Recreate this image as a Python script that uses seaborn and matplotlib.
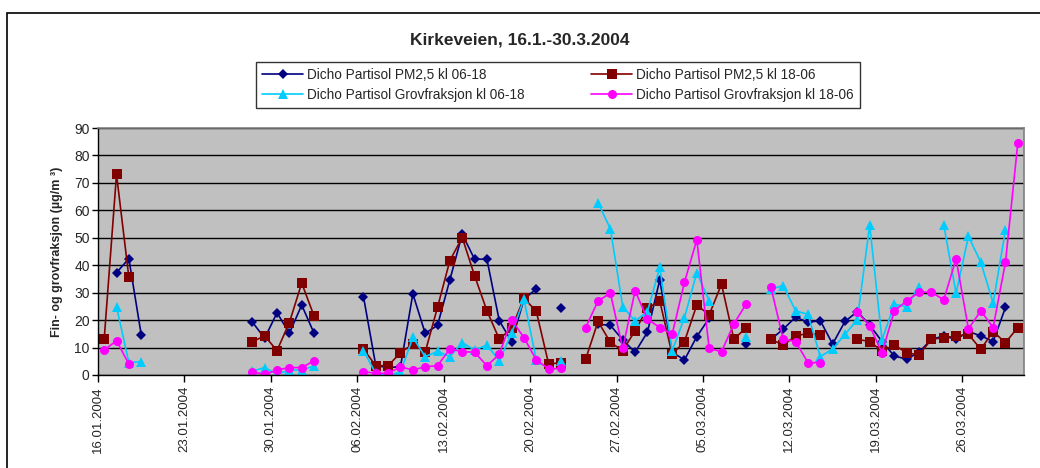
import numpy as np
import pandas as pd
import seaborn as sns
import matplotlib.pyplot as plt
from matplotlib.patches import Rectangle

nan = np.nan

# daglige verdier 16.01.2004 - 30.03.2004 (75 dager), nan = ingen måling
start = '2004-01-16'
pm25_dag = [nan, 37.3, 42.4, 14.7, nan, nan, nan, nan, nan, nan, nan, nan,
            19.3, 13.4, 22.7, 15.2, 25.5, 15.2, nan, nan, nan,
            28.6, 3.4, 2.7, 3.0, 29.6, 15.2, 18.1, 34.7, 51.3, 42.2, 42.2, 19.8, 12.2, 27.6, 31.4,
            nan, 24.3, nan, nan,
            18.5, 18.1, 12.8, 8.3, 15.6, 34.7, 8.3, 5.5, 14.0, 20.7, nan, nan, 11.2, nan,
            13.0, 16.7, 21.1, 19.2, 19.8, 11.3, 19.5, 23.1, 18.2, 12.2, 6.9, 5.8, 8.3, 13.0,
            14.2, 13.0, 15.8, 14.3, 12.2, 24.6, nan]
pm25_natt = [13.0, 73.1, 35.6, nan, nan, nan, nan, nan, nan, nan, nan, nan,
             12.2, 14.2, 8.9, 19.1, 33.5, 21.5, nan, nan, nan,
             9.4, 3.4, 3.4, 8.1, 11.3, 8.3, 24.7, 41.7, 50.1, 36.2, 23.4, 13.1, 17.0, 28.0, 23.2,
             4.0, 4.5, nan,
             5.8, 19.5, 11.9, 8.9, 16.1, 24.3, 27.0, 7.5, 12.2, 25.5, 21.9, 33.1, 13.0, 17.3, nan,
             13.0, 10.9, 14.2, 15.2, 14.6, nan, nan,
             13.0, 12.2, 8.8, 10.9, 8.1, 7.3, 13.0, 13.6, 14.2, 14.8, 9.4, 15.8, 11.8, 17.3]
grov_dag = [nan, 24.9, 4.5, 4.9, nan, nan, nan, nan, nan, nan, nan, nan,
            1.4, 2.7, 0.3, 1.8, 1.8, 3.3, nan, nan, nan,
            8.8, 0.6, 0.0, 1.0, 13.7, 6.7, 8.6, 6.7, 11.8, 9.1, 10.9, 5.2, 15.2, 27.6, 5.5,
            nan, 5.2, nan, nan,
            62.7, 53.3, 24.9, 19.7, 23.1, 39.2, 8.8, 20.9, 37.3, 27.1, nan, nan, 14.0, nan,
            31.3, 32.6, 23.4, 22.1, 6.7, 9.5, 14.8, 20.1, 54.7, 12.8, 25.8, 24.9, 32.2, nan,
            54.7, 29.8, 50.5, 41.1, 26.2, 52.9, nan]
grov_natt = [9.1, 12.5, 4.0, nan, nan, nan, nan, nan, nan, nan, nan, nan,
             1.2, 0.2, 1.8, 2.7, 2.7, 5.2, nan, nan, nan,
             1.2, 0.6, 0.6, 3.0, 1.8, 3.0, 3.4, 9.5, 8.5, 8.3, 3.4, 7.5, 20.1, 13.6, 5.5,
             2.2, 2.4, nan,
             17.3, 27.0, 29.8, 9.7, 30.7, 20.4, 17.3, 14.8, 33.8, 49.3, 9.7, 8.5, 18.6, 25.9, nan,
             32.0, 13.0, 12.2, 4.5, 4.5, nan, nan,
             22.9, 17.9, 8.1, 23.4, 27.0, 30.2, 30.2, 27.4, 42.3, 16.8, 23.4, 17.3, 41.1, 84.6]

serier = ['Dicho Partisol PM2,5 kl 06-18', 'Dicho Partisol PM2,5 kl 18-06',
          'Dicho Partisol Grovfraksjon kl 06-18', 'Dicho Partisol Grovfraksjon kl 18-06']
farger = ['#000080', '#800000', '#00CCFF', '#FF00FF']
markorer = ['D', 's', '^', 'o']
storrelse = {'D': 5.3, 's': 6.5, '^': 7, 'o': 6.5}

datoer = pd.date_range(start, periods=len(pm25_dag), freq='D')

# lang tabell, hvert sammenhengende stykke får egen unit slik at hull blir brudd i linja
frames = []
for navn, verdier in zip(serier, [pm25_dag, pm25_natt, grov_dag, grov_natt]):
    s = pd.Series(verdier, dtype=float)
    df = pd.DataFrame({'dag': np.arange(len(s)) + 0.5, 'verdi': s, 'serie': navn,
                       'seg': s.isna().cumsum()})
    df = df.dropna(subset=['verdi'])
    df['unit'] = navn + '_' + df['seg'].astype(str)
    frames.append(df)
data = pd.concat(frames, ignore_index=True)

sns.set_style('white')
plt.rcParams['font.family'] = ['Liberation Sans', 'DejaVu Sans']

fig = plt.figure(figsize=(10.4, 4.68), dpi=100)
ax = fig.add_axes([98 / 1040, 1 - 375 / 468, (1024 - 98) / 1040, (375 - 128) / 468])
ax.set_facecolor('#C0C0C0')

sns.lineplot(data=data, x='dag', y='verdi', hue='serie', style='serie', units='unit',
             estimator=None, hue_order=serier, style_order=serier,
             palette=dict(zip(serier, farger)), markers=dict(zip(serier, markorer)),
             dashes=False, linewidth=1.2, markersize=6.5, markeredgewidth=0, ax=ax)

ax.set_xlim(0, len(datoer))
ax.set_ylim(0, 90)
ax.set_yticks(range(0, 91, 10))
ax.yaxis.grid(True, color='black', linewidth=1)
ax.set_axisbelow(True)

tick_pos = np.arange(0, len(datoer), 7)
ax.set_xticks(tick_pos)
ax.set_xticklabels([datoer[i].strftime('%d.%m.%Y') for i in tick_pos], rotation=90, fontsize=9.5)
ax.tick_params(axis='y', labelsize=10, length=4, width=1, color='black', left=True, pad=2)
ax.tick_params(axis='x', length=5, width=1, color='black', bottom=True, pad=3)

for side in ['top', 'right']:
    ax.spines[side].set_color('#808080')
    ax.spines[side].set_linewidth(1.2)
for side in ['left', 'bottom']:
    ax.spines[side].set_color('black')
    ax.spines[side].set_linewidth(1)

ax.set_xlabel('')
ax.set_ylabel('Fin- og grovfraksjon (µg/m ³)', fontsize=9, fontweight='bold', labelpad=8)

fig.text(0.5, 1 - 40 / 468, 'Kirkeveien, 16.1.-30.3.2004', ha='center', va='center',
         fontsize=12.5, fontweight='bold')

h, l = ax.get_legend_handles_labels()
ax.get_legend().remove()
for linje in ax.lines + h:
    m = linje.get_marker()
    if m in storrelse:
        linje.set_markersize(storrelse[m])

rekke = [0, 2, 1, 3]
leg = fig.legend([h[i] for i in rekke], [l[i] for i in rekke], ncol=2,
                 loc='center', bbox_to_anchor=(256 / 1040, 1 - 108 / 468, 604 / 1040, 46 / 468),
                 mode='expand', fontsize=9.8, frameon=True, fancybox=False,
                 edgecolor='black', handlelength=3.0, handletextpad=0.3,
                 borderpad=0.45, labelspacing=0.45, borderaxespad=0)
leg.get_frame().set_linewidth(1)

# ramme rundt hele diagrammet
fig.patches.append(Rectangle((7 / 1040, -0.2), 1.2, 1.2 - 13 / 468, transform=fig.transFigure,
                             fill=False, edgecolor='black', linewidth=1.2))

fig.savefig('out.png', dpi=100)
